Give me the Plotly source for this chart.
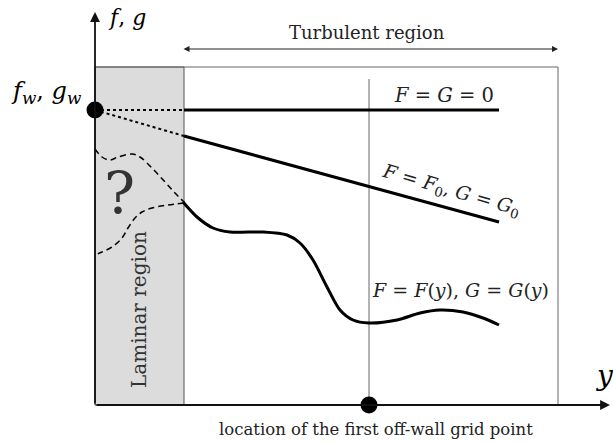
import plotly.graph_objects as go

# schematic data (page-pixel-like coordinates: x to the right, y downward)
wall_x = 95
laminar_edge_x = 184
box_right_x = 558
box_top_y = 67
axis_y = 405
grid_point_x = 369
wall_value_y = 110

# F = G = 0 line
zero_x = [184, 499]
zero_y = [110, 110]
# F = F0, G = G0 line
const_x = [184, 499]
const_y = [136, 222]
# F = F(y), G = G(y) curve
var_x = [183, 197, 213, 230, 263, 287, 300, 313, 327, 340, 353, 369, 397, 420, 440, 463, 483, 499]
var_y = [202, 217, 228, 232, 232, 235, 243, 260, 287, 310, 320, 323, 320, 313, 310, 312, 318, 325]
# dashed "?" curves in laminar region
dash_up_x = [95, 102, 110, 118, 132, 140, 152, 165, 175, 184]
dash_up_y = [149, 157, 160, 157, 154, 157, 168, 182, 193, 202]
dash_lo_x = [184, 168, 152, 142, 135, 128, 122, 112, 102, 95]
dash_lo_y = [203, 205, 208, 212, 218, 228, 238, 247, 252, 255]

SERIF = "DejaVu Serif"
fig = go.Figure()

fig.add_trace(go.Scatter(x=zero_x, y=zero_y, mode="lines", line=dict(color="black", width=3)))
fig.add_trace(go.Scatter(x=const_x, y=const_y, mode="lines", line=dict(color="black", width=3)))
fig.add_trace(go.Scatter(x=var_x, y=var_y, mode="lines",
                         line=dict(color="black", width=3, shape="spline", smoothing=0.8)))
fig.add_trace(go.Scatter(x=[wall_x, laminar_edge_x], y=[wall_value_y, wall_value_y], mode="lines",
                         line=dict(color="black", width=2, dash="dot")))
fig.add_trace(go.Scatter(x=[wall_x, const_x[0]], y=[wall_value_y, const_y[0]], mode="lines",
                         line=dict(color="black", width=2, dash="dot")))
fig.add_trace(go.Scatter(x=dash_up_x, y=dash_up_y, mode="lines",
                         line=dict(color="black", width=1.5, dash="6px,4px", shape="spline")))
fig.add_trace(go.Scatter(x=dash_lo_x, y=dash_lo_y, mode="lines",
                         line=dict(color="black", width=1.5, dash="6px,4px", shape="spline")))
fig.add_trace(go.Scatter(x=[wall_x, grid_point_x], y=[wall_value_y, axis_y], mode="markers",
                         marker=dict(color="black", size=17)))

shapes = [
    dict(type="rect", x0=wall_x, x1=laminar_edge_x, y0=box_top_y, y1=axis_y,
         fillcolor="#dcdcdc", line=dict(color="#555", width=1), layer="below"),
    dict(type="rect", x0=wall_x, x1=box_right_x, y0=box_top_y, y1=axis_y,
         fillcolor="rgba(0,0,0,0)", line=dict(color="#666", width=1), layer="below"),
    dict(type="line", x0=grid_point_x, x1=grid_point_x, y0=79, y1=axis_y,
         line=dict(color="#666", width=1), layer="below"),
]
fig.update_layout(shapes=shapes)

# axes arrows
fig.add_annotation(x=wall_x, y=12, ax=wall_x, ay=axis_y, xref="x", yref="y", axref="x", ayref="y",
                   showarrow=True, arrowhead=2, arrowsize=1.1, arrowwidth=1.8, arrowcolor="#111", text="")
fig.add_annotation(x=610, y=axis_y, ax=wall_x, ay=axis_y, xref="x", yref="y", axref="x", ayref="y",
                   showarrow=True, arrowhead=2, arrowsize=1.1, arrowwidth=1.8, arrowcolor="#111", text="")
fig.add_annotation(x=box_right_x, y=49, ax=182, ay=49, xref="x", yref="y", axref="x", ayref="y",
                   showarrow=True, arrowhead=2, startarrowhead=2, arrowside="end+start",
                   arrowsize=1.2, arrowwidth=1, startarrowsize=1.2, arrowcolor="#222", text="")


def txt(x, y, s, size, angle=0, color="black"):
    fig.add_annotation(x=x, y=y, text=s, showarrow=False, textangle=angle,
                       font=dict(family=SERIF, size=size, color=color), xref="x", yref="y")


txt(127, 17, "<i>f</i>, <i>g</i>", 22)
txt(46, 92, "<i>f</i><sub><i>w</i></sub>, <i>g</i><sub><i>w</i></sub>", 24)
txt(367, 32, "Turbulent region", 18, color="#222")
txt(444, 95, "<i>F</i> = <i>G</i> = 0", 19.5, color="#222")
txt(451, 190, "<i>F</i> = <i>F</i><sub>0</sub>, <i>G</i> = <i>G</i><sub>0</sub>", 19, angle=16, color="#222")
txt(460, 290, "<i>F</i> = <i>F</i>(<i>y</i>), <i>G</i> = <i>G</i>(<i>y</i>)", 19, color="#222")
txt(604, 375, "<i>y</i>", 28)
txt(376, 429, "location of the first off-wall grid point", 16.5, color="#222")
txt(119, 193, "?", 58, color="#333")
txt(139, 310, "Laminar region", 20, angle=-90, color="#333")

# one axis unit is one page pixel; the page body margin is removed so nothing is clipped
fig.update_layout(
    width=613, height=443, margin=dict(l=0, r=0, t=0, b=0),
    plot_bgcolor="white", paper_bgcolor="white", showlegend=False,
    xaxis=dict(range=[0, 613], visible=False, fixedrange=True),
    yaxis=dict(range=[443, 0], visible=False, fixedrange=True),
)
fig.write_html("out.html", config={"displayModeBar": False},
               post_script="document.body.style.margin='0';document.body.style.overflow='hidden';")
